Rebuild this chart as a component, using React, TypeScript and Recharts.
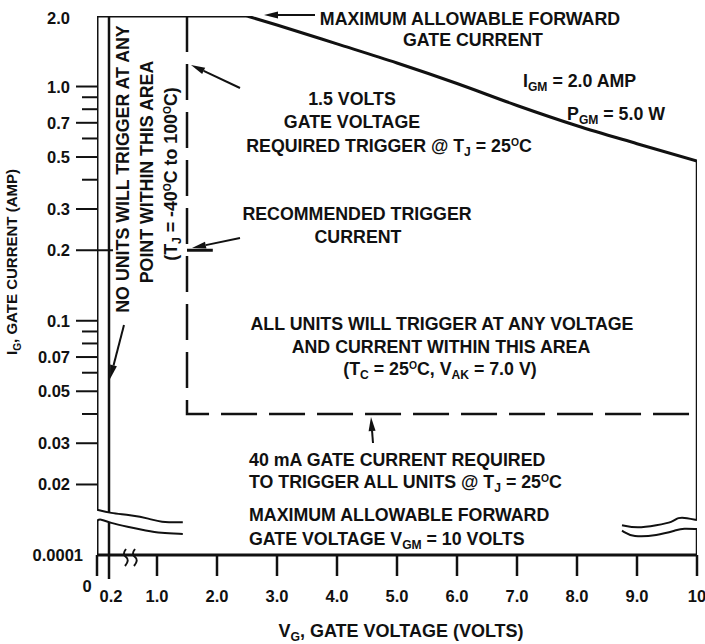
import React from "react";
import { ComposedChart, Line, XAxis, YAxis } from "recharts";

const FONT = "'Liberation Sans', Arial, sans-serif";
const INK = "#111";

// axis ticks
const xTicks = [0, 0.2, 1, 2, 3, 4, 5, 6, 7, 8, 9, 10];
const xTickLabels = ["0", "0.2", "1.0", "2.0", "3.0", "4.0", "5.0", "6.0", "7.0", "8.0", "9.0", "10"];
const yTicks = [2, 1, 0.7, 0.5, 0.3, 0.2, 0.1, 0.07, 0.05, 0.03, 0.02, 0.01];
const yTickLabels = ["2.0", "1.0", "0.7", "0.5", "0.3", "0.2", "0.1", "0.07", "0.05", "0.03", "0.02", "0.0001"];
const yMinorTicks = [0.9, 0.8, 0.6, 0.4, 0.09, 0.08, 0.06, 0.04];

// max forward gate current (2.0 A) then the 5 W gate power limit
const currentLimit = [
  { v: 0, i: 2 },
  { v: 2.5, i: 2 },
];
const powerLimit = [
  { v: 2.5, i: 2 },
  { v: 3, i: 1.83 },
  { v: 4, i: 1.52 },
  { v: 5, i: 1.26 },
  { v: 6, i: 1.03 },
  { v: 7, i: 0.83 },
  { v: 8, i: 0.68 },
  { v: 9, i: 0.57 },
  { v: 10, i: 0.48 },
];

// boundary verticals, split by the axis break
const leftEdgeTop = [{ v: 0, i: 2 }, { v: 0, i: 0.0156 }];
const leftEdgeBottom = [{ v: 0, i: 0.014 }, { v: 0, i: 0.01 }];
const noTriggerTop = [{ v: 0.2, i: 2 }, { v: 0.2, i: 0.0151 }];
const noTriggerBottom = [{ v: 0.2, i: 0.0137 }, { v: 0.2, i: 0.01 }];
const rightEdgeTop = [{ v: 10, i: 0.48 }, { v: 10, i: 0.0141 }];
const rightEdgeBottom = [{ v: 10, i: 0.0129 }, { v: 10, i: 0.01 }];

// break squiggles
const breakLeftUpper = [
  { v: 0, i: 0.0156 }, { v: 0.22, i: 0.0151 }, { v: 0.55, i: 0.0148 },
  { v: 0.88, i: 0.0143 }, { v: 1.05, i: 0.0138 }, { v: 1.43, i: 0.0138 },
];
const breakLeftLower = [
  { v: 0, i: 0.014 }, { v: 0.05, i: 0.0143 }, { v: 0.22, i: 0.0137 },
  { v: 0.5, i: 0.0132 }, { v: 0.83, i: 0.0127 }, { v: 1.05, i: 0.0124 }, { v: 1.43, i: 0.0123 },
];
const breakRightUpper = [
  { v: 8.75, i: 0.0134 }, { v: 9.0, i: 0.013 }, { v: 9.33, i: 0.0134 },
  { v: 9.6, i: 0.0138 }, { v: 9.68, i: 0.0145 }, { v: 9.83, i: 0.0144 }, { v: 10, i: 0.0141 },
];
const breakRightLower = [
  { v: 8.75, i: 0.0127 }, { v: 8.93, i: 0.0119 }, { v: 9.33, i: 0.0121 },
  { v: 9.67, i: 0.0128 }, { v: 9.77, i: 0.013 }, { v: 10, i: 0.0129 },
];

// 1.5 V gate voltage / 40 mA gate current trigger boundary
const triggerBoundary = [
  { v: 1.5, i: 2 },
  { v: 1.5, i: 0.04 },
  { v: 10, i: 0.04 },
];
const recommendedCurrent = [
  { v: 1.5, i: 0.2 },
  { v: 1.93, i: 0.2 },
];

function YTick(props: any) {
  const { x, y, payload } = props;
  const idx = yTicks.indexOf(payload.value);
  if (idx < 0) {
    return <line x1={x - 15} x2={x} y1={y} y2={y} stroke={INK} strokeWidth={2} />;
  }
  const label = yTickLabels[idx];
  const isTop = payload.value === 2;
  const isBreak = payload.value === 0.01;
  return (
    <g>
      {!isTop && !isBreak && (
        <line x1={x - 21} x2={payload.value === 0.2 ? x + 16 : x} y1={y} y2={y} stroke={INK} strokeWidth={2} />
      )}
      <text
        x={isBreak ? x - 14 : x - 27}
        y={isTop ? y + 8 : y + 6}
        textAnchor="end"
        fontFamily={FONT}
        fontWeight={700}
        fontSize={16.5}
        fill={INK}
      >
        {label}
      </text>
    </g>
  );
}

function XTick(props: any) {
  const { x, y, payload } = props;
  const idx = xTicks.indexOf(payload.value);
  const label = xTickLabels[idx];
  const isZero = payload.value === 0;
  return (
    <g>
      <line x1={x} x2={x} y1={y} y2={y + (payload.value === 0.2 ? 24 : 21)} stroke={INK} strokeWidth={2.5} />
      <text
        x={isZero ? x - 10 : payload.value === 0.2 ? x + 2 : x}
        y={isZero ? y + 37 : y + 47}
        textAnchor="middle"
        fontFamily={FONT}
        fontWeight={700}
        fontSize={16.5}
        fill={INK}
      >
        {label}
      </text>
    </g>
  );
}

function Arrow({ x1, y1, x2, y2 }: { x1: number; y1: number; x2: number; y2: number }) {
  const a = Math.atan2(y2 - y1, x2 - x1);
  const len = 14;
  const w = 3.5;
  const bx = x2 - len * Math.cos(a);
  const by = y2 - len * Math.sin(a);
  const px = -Math.sin(a) * w;
  const py = Math.cos(a) * w;
  return (
    <g>
      <line x1={x1} y1={y1} x2={bx} y2={by} stroke={INK} strokeWidth={2} />
      <polygon points={`${x2},${y2} ${bx + px},${by + py} ${bx - px},${by - py}`} fill={INK} />
    </g>
  );
}

const SIZE = 17.8;

// segments: plain strings, or ["sub", "GM"] / ["deg"]
function Rich({ x, y, anchor = "start", size = SIZE, parts }: any) {
  let offset = 0;
  const spans = parts.map((p: any, k: number) => {
    let target = 0;
    let fs = size;
    let content = p;
    if (Array.isArray(p)) {
      if (p[0] === "sub") {
        target = 4;
        fs = size * 0.68;
        content = p[1];
      } else {
        target = -6;
        fs = size * 0.58;
        content = "O";
      }
    }
    const dy = target - offset;
    offset = target;
    return (
      <tspan key={k} fontSize={fs} dy={dy}>
        {content}
      </tspan>
    );
  });
  return (
    <text x={x} y={y} textAnchor={anchor} fontFamily={FONT} fontWeight={700} fontSize={size} fill={INK}>
      {spans}
    </text>
  );
}

function Annotations() {
  return (
    <g>
      <Rich x={470} y={25} anchor="middle" parts={["MAXIMUM ALLOWABLE FORWARD"]} />
      <Rich x={473} y={46} anchor="middle" parts={["GATE CURRENT"]} />
      <Arrow x1={315} y1={15} x2={264} y2={15} />

      <Rich x={523} y={87} parts={["I", ["sub", "GM"], " = 2.0 AMP"]} />
      <Rich x={567} y={120} parts={["P", ["sub", "GM"], " = 5.0 W"]} />

      <Rich x={352} y={105} anchor="middle" parts={["1.5 VOLTS"]} />
      <Rich x={352} y={128} anchor="middle" parts={["GATE VOLTAGE"]} />
      <Rich x={389} y={152} anchor="middle" parts={["REQUIRED TRIGGER @ T", ["sub", "J"], " = 25", ["deg"], "C"]} />
      <Arrow x1={240} y1={88} x2={191} y2={65} />

      <Rich x={357} y={220} anchor="middle" parts={["RECOMMENDED TRIGGER"]} />
      <Rich x={358} y={243} anchor="middle" parts={["CURRENT"]} />
      <Arrow x1={240} y1={238} x2={192} y2={248} />

      <Rich x={442} y={330} anchor="middle" parts={["ALL UNITS WILL TRIGGER AT ANY VOLTAGE"]} />
      <Rich x={441} y={353} anchor="middle" parts={["AND CURRENT WITHIN THIS AREA"]} />
      <Rich
        x={440}
        y={375}
        anchor="middle"
        parts={["(T", ["sub", "C"], " = 25", ["deg"], "C, V", ["sub", "AK"], " = 7.0 V)"]}
      />

      <Arrow x1={373} y1={443} x2={371} y2={417} />
      <Rich x={249} y={466} parts={["40 mA GATE CURRENT REQUIRED"]} />
      <Rich x={249} y={488} parts={["TO TRIGGER ALL UNITS @ T", ["sub", "J"], " = 25", ["deg"], "C"]} />
      <Rich x={249} y={521} parts={["MAXIMUM ALLOWABLE FORWARD"]} />
      <Rich x={249} y={545} parts={["GATE VOLTAGE V", ["sub", "GM"], " = 10 VOLTS"]} />

      <g transform="translate(129,169) rotate(-90)">
        <Rich x={0} y={0} anchor="middle" parts={["NO UNITS WILL TRIGGER AT ANY"]} />
      </g>
      <g transform="translate(153,172) rotate(-90)">
        <Rich x={0} y={0} anchor="middle" parts={["POINT WITHIN THIS AREA"]} />
      </g>
      <g transform="translate(177,174) rotate(-90)">
        <Rich x={0} y={0} anchor="middle" parts={["(T", ["sub", "J"], " = -40", ["deg"], "C to 100", ["deg"], "C)"]} />
      </g>
      <Arrow x1={124} y1={325} x2={110} y2={379} />

      <g transform="translate(17,262) rotate(-90)">
        <Rich x={0} y={0} anchor="middle" size={15} parts={["I", ["sub", "G"], ", GATE CURRENT (AMP)"]} />
      </g>
      <Rich x={401} y={637} anchor="middle" size={18} parts={["V", ["sub", "G"], ", GATE VOLTAGE (VOLTS)"]} />

      {/* x axis break mark */}
      <path d="M126,549 q-4,5 0,8 q4,3 -1,9" fill="none" stroke={INK} strokeWidth={2} />
      <path d="M135,549 q-4,5 0,8 q4,3 -1,9" fill="none" stroke={INK} strokeWidth={2} />
    </g>
  );
}

function Series({ data, width = 3, type = "linear", dash }: any) {
  return (
    <Line
      data={data}
      dataKey="i"
      type={type}
      stroke={INK}
      strokeWidth={width}
      strokeDasharray={dash}
      dot={false}
      activeDot={false}
      legendType="none"
      isAnimationActive={false}
    />
  );
}

export default function App() {
  return (
    <div style={{ position: "absolute", left: 0, top: 0, width: 705, height: 644, background: "#fff" }}>
      <ComposedChart width={705} height={644} margin={{ top: 16, right: 8, bottom: 0, left: 0 }}>
        <XAxis
          dataKey="v"
          type="number"
          domain={[0, 10]}
          allowDataOverflow
          ticks={xTicks}
          interval={0}
          height={89}
          tickSize={0}
          tickMargin={0}
          tickLine={false}
          axisLine={{ stroke: INK, strokeWidth: 3 }}
          tick={<XTick />}
        />
        <YAxis
          type="number"
          scale="log"
          domain={[0.01, 2]}
          allowDataOverflow
          ticks={[...yTicks, ...yMinorTicks]}
          interval={0}
          width={97}
          tickSize={0}
          tickMargin={0}
          tickLine={false}
          axisLine={false}
          tick={<YTick />}
        />
        {Series({ data: currentLimit, width: 3 })}
        {Series({ data: powerLimit, width: 3, type: "monotone" })}
        {Series({ data: leftEdgeTop, width: 3 })}
        {Series({ data: leftEdgeBottom, width: 3 })}
        {Series({ data: noTriggerTop, width: 2.5 })}
        {Series({ data: noTriggerBottom, width: 2.5 })}
        {Series({ data: rightEdgeTop, width: 2.5 })}
        {Series({ data: rightEdgeBottom, width: 2.5 })}
        {Series({ data: breakLeftUpper, width: 2, type: "basis" })}
        {Series({ data: breakLeftLower, width: 2, type: "basis" })}
        {Series({ data: breakRightUpper, width: 2, type: "basis" })}
        {Series({ data: breakRightLower, width: 2, type: "basis" })}
        {Series({ data: triggerBoundary, width: 2.5, dash: "36 12" })}
        {Series({ data: recommendedCurrent, width: 3 })}
        <Annotations />
      </ComposedChart>
    </div>
  );
}
